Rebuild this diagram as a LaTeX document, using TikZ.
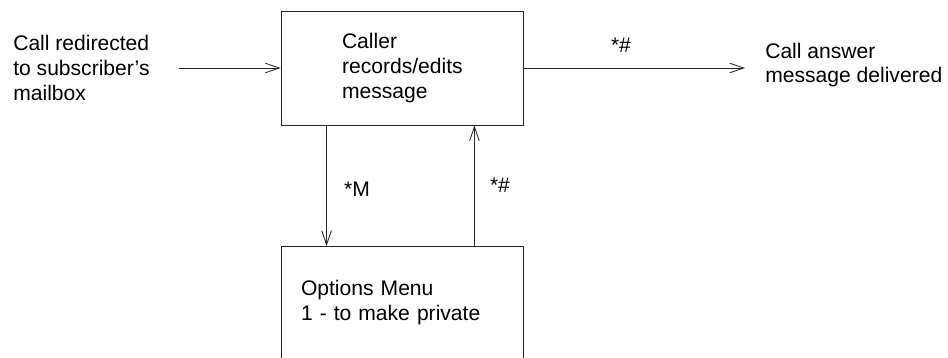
\documentclass[tikz,border=0pt]{standalone}
\usepackage{fontspec}
\setmainfont{Liberation Sans}
\usepackage{tikz}
\usetikzlibrary{positioning, arrows.meta}

\begin{document}
\begin{tikzpicture}[
    font=\fontsize{15}{17.5}\selectfont,
    stepbox/.style={draw=black!85, line width=0.6pt, minimum width=6.05cm, align=left},
    flow/.style={draw=black!85, line width=0.6pt,
        -{Straight Barb[length=3.5mm, width=2.4mm]}},
    plain/.style={inner sep=0pt, align=left}
]
    \useasboundingbox (0,0) rectangle (23.7,-8.95);
    \clip (0,0) rectangle (23.7,-8.95);

    % Boxes
    \node[stepbox, minimum height=2.85cm, text width=3cm, inner xsep=1.525cm]
        (caller) at (10.05,-1.7) {Caller\\records/edits\\message};
    \node[stepbox, minimum height=2.8cm, text width=5.05cm, inner xsep=0.5cm,
        anchor=north] (options) at (10.05,-6.15) {Options Menu\\1 - to make private};

    % Incoming call
    \node[plain, anchor=west] (redirect) at (0.325,-1.7)
        {Call redirected\\to subscriber's\\mailbox};
    \coordinate (in) at (4.475,-1.7);
    \draw[flow] (in) -- (caller);

    % Delivered
    \node[plain, anchor=west] (delivered) at (19.125,-1.625)
        {Call answer\\message delivered};
    \coordinate (out) at (18.625,-1.7);
    \draw[flow] (caller) -- (out);
    \node (hashout) at (15.525,-1.125) {*\#};

    % Options menu and back
    \draw[flow] ([xshift=1.15cm]caller.south west) -- ([xshift=1.15cm]options.north west);
    \node (starm) at (8.925,-4.725) {*M};
    \draw[flow] ([xshift=-1.225cm]options.north east) -- ([xshift=-1.225cm]caller.south east);
    \node (hashback) at (12.5,-4.625) {*\#};
\end{tikzpicture}
\end{document}
